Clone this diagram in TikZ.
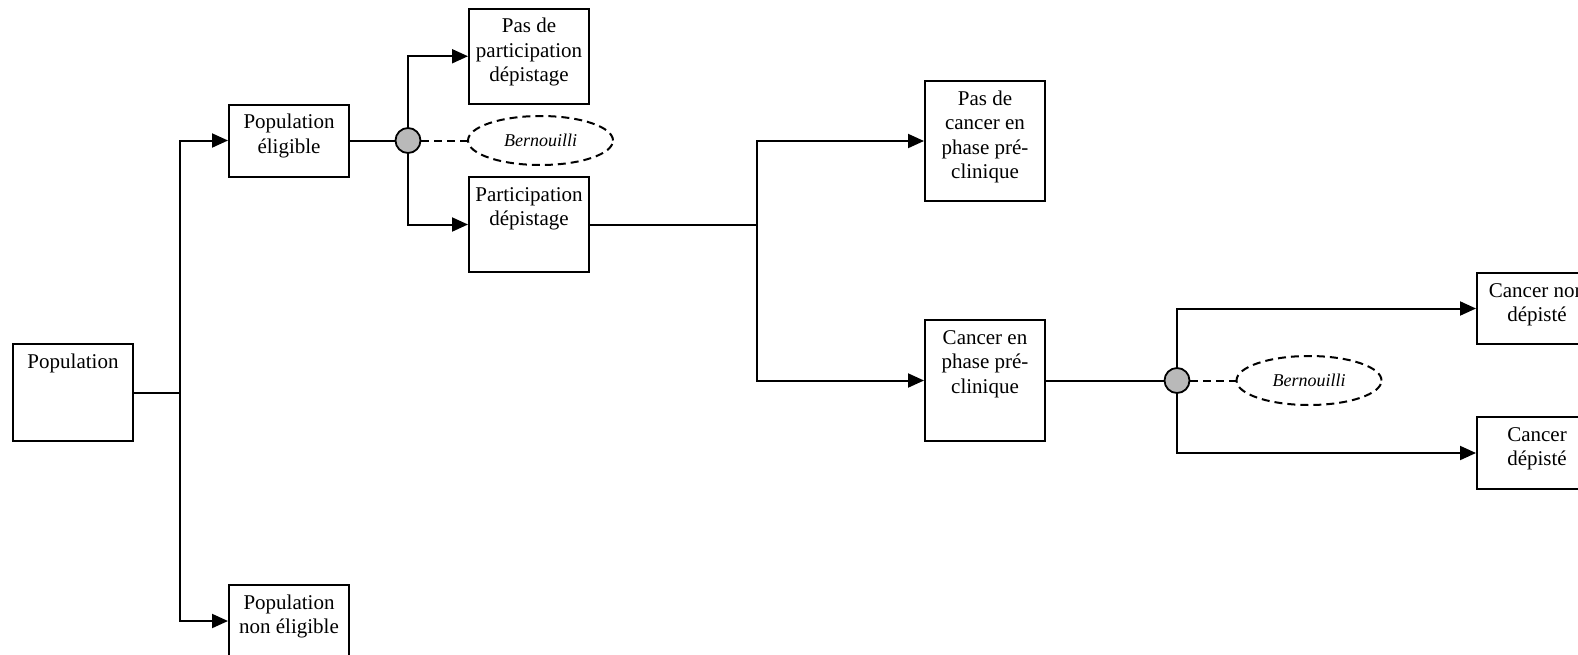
\documentclass[tikz,border=0pt]{standalone}
\usepackage{fontspec}
\setmainfont{Liberation Serif}
\usetikzlibrary{arrows.meta,shapes.geometric}
\newcommand\bt[2]{\parbox[t][#1][t]{120pt}{\centering\fontsize{21}{24.5}\selectfont\rule{0pt}{24pt}#2}}
\tikzset{
  box/.style={draw,line width=2pt,rectangle,inner sep=0pt,anchor=north west},
  conn/.style={line width=2pt},
  arr/.style={line width=2pt,-{Triangle[length=16pt,width=14pt]}},
  chance/.style={draw,circle,line width=1.8pt,fill=gray!55,minimum size=25pt,inner sep=0pt},
  bern/.style={draw,ellipse,dash pattern=on 8pt off 5pt,line width=2pt,minimum width=145pt,minimum height=49pt,inner sep=0pt,font=\fontsize{18}{20}\selectfont\itshape},
  dsh/.style={line width=2pt,dash pattern=on 8pt off 5pt}
}
\begin{document}
\begin{tikzpicture}[x=1pt,y=-1pt]
\useasboundingbox (0,0) rectangle (1578,654);
\clip (0,0) rectangle (1578,654);
\fill[white] (0,0) rectangle (1578,654);
% boxes
\node[box] (pop) at (12,343) {\bt{97pt}{Population}};
\node[box] (elig) at (228,103.5) {\bt{72pt}{Population\\éligible}};
\node[box] (nonelig) at (228,584) {\bt{72pt}{Population\\non éligible}};
\node[box] (paspart) at (468,7.5) {\bt{95.5pt}{Pas de\\participation\\dépistage}};
\node[box] (part) at (468,176) {\bt{95pt}{Participation\\dépistage}};
\node[box] (pascancer) at (924,80) {\bt{120pt}{Pas de\\cancer en\\phase pré-\\clinique}};
\node[box] (cancer) at (924,319) {\bt{121pt}{Cancer en\\phase pré-\\clinique}};
\node[box] (nondep) at (1476,272) {\bt{71pt}{Cancer non\\dépisté}};
\node[box] (dep) at (1476,416) {\bt{72pt}{Cancer\\dépisté}};
% helper x positions
\coordinate (x1) at (180,0);
\coordinate (x2) at (757,0);
\coordinate (cx1) at (408,0);
\coordinate (ex1) at (540.5,0);
\coordinate (cx2) at (1177,0);
\coordinate (ex2) at (1309,0);
% chance nodes and Bernoulli
\node[chance] (c1) at (elig.east -| cx1) {};
\node[bern] (e1) at (c1 -| ex1) {Bernouilli};
\node[chance] (c2) at (cancer.east -| cx2) {};
\node[bern] (e2) at (c2 -| ex2) {Bernouilli};
% junctions
\coordinate (j1) at (pop.east -| x1);
\coordinate (j2) at (part.east -| x2);
% connectors
\draw[conn] (pop.east) -- (j1);
\draw[arr] (j1) |- (elig.west);
\draw[arr] (j1) |- (nonelig.west);
\draw[conn] (elig.east) -- (c1.west);
\draw[arr] (c1.north) |- (paspart.west);
\draw[arr] (c1.south) |- (part.west);
\draw[dsh] (c1.east) -- (e1.west);
\draw[conn] (part.east) -- (j2);
\draw[arr] (j2) |- (pascancer.west);
\draw[arr] (j2) |- (cancer.west);
\draw[conn] (cancer.east) -- (c2.west);
\draw[arr] (c2.north) |- (nondep.west);
\draw[arr] (c2.south) |- (dep.west);
\draw[dsh] (c2.east) -- (e2.west);
\end{tikzpicture}
\end{document}
